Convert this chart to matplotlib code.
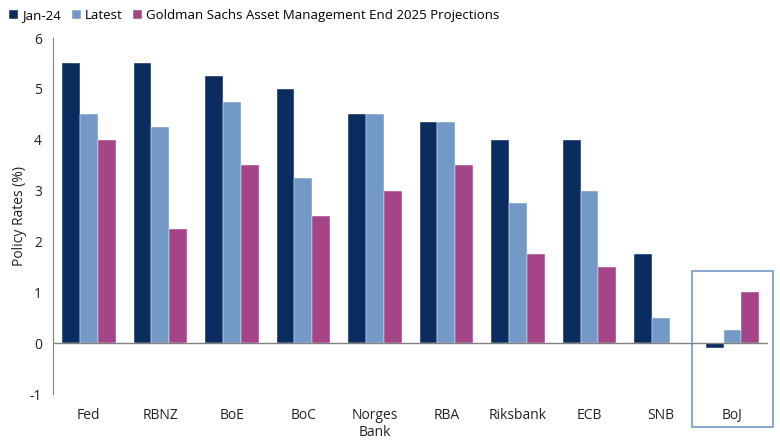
import matplotlib
matplotlib.use("Agg")
import matplotlib.pyplot as plt
import numpy as np
from matplotlib.patches import Rectangle

plt.rcParams['font.family'] = ['Open Sans', 'DejaVu Sans']
plt.rcParams['axes.unicode_minus'] = False

categories = ["Fed", "RBNZ", "BoE", "BoC", "Norges\nBank", "RBA", "Riksbank", "ECB", "SNB", "BoJ"]
jan24 = [5.5, 5.5, 5.25, 5.0, 4.5, 4.35, 4.0, 4.0, 1.75, -0.1]
latest = [4.5, 4.25, 4.75, 3.25, 4.5, 4.35, 2.75, 3.0, 0.5, 0.25]
gsam = [4.0, 2.25, 3.5, 2.5, 3.0, 3.5, 1.75, 1.5, 0.0, 1.0]
series_names = ["Jan-24", "Latest", "Goldman Sachs Asset Management End 2025 Projections"]
colors = ["#0B2C5F", "#7399C6", "#A54588"]

fig = plt.figure(figsize=(7.8, 4.4), dpi=100)
ax = fig.add_axes([0.068, 0.1045, 0.917, 0.809])

x = np.arange(len(categories))
w = 0.25
for i, (vals, name, c) in enumerate(zip([jan24, latest, gsam], series_names, colors)):
    ax.bar(x + (i - 1) * w, vals, w, color=c, label=name, edgecolor='white', linewidth=0.3)

ax.set_xlim(-0.5, 9.5)
ax.set_ylim(-1, 6)
ax.set_yticks(range(-1, 7))
ax.set_xticks(x)
ax.set_xticklabels(categories)
ax.axhline(0, color='#808080', linewidth=1)
for s in ['top', 'right', 'bottom']:
    ax.spines[s].set_visible(False)
ax.spines['left'].set_color('#808080')
ax.tick_params(axis='x', length=0, pad=10, labelsize=10, colors='#222222')
ax.tick_params(axis='y', length=0, pad=8, labelsize=10, colors='#222222')
ax.set_ylabel("Policy Rates (%)", fontsize=10, color='#222222', labelpad=2)

rect = Rectangle((8.44, -1.65), 1.13, 3.06, fill=False, edgecolor='#7399C6',
                 linewidth=1.2, clip_on=False, transform=ax.transData)
ax.add_patch(rect)

leg = fig.legend(loc='upper left', bbox_to_anchor=(0.0, 1.0), ncol=3, frameon=False,
                 fontsize=9.5, handlelength=0.7, handleheight=0.7, handletextpad=0.3,
                 columnspacing=0.8, borderaxespad=0.3)

fig.savefig("out.png", dpi=100)
